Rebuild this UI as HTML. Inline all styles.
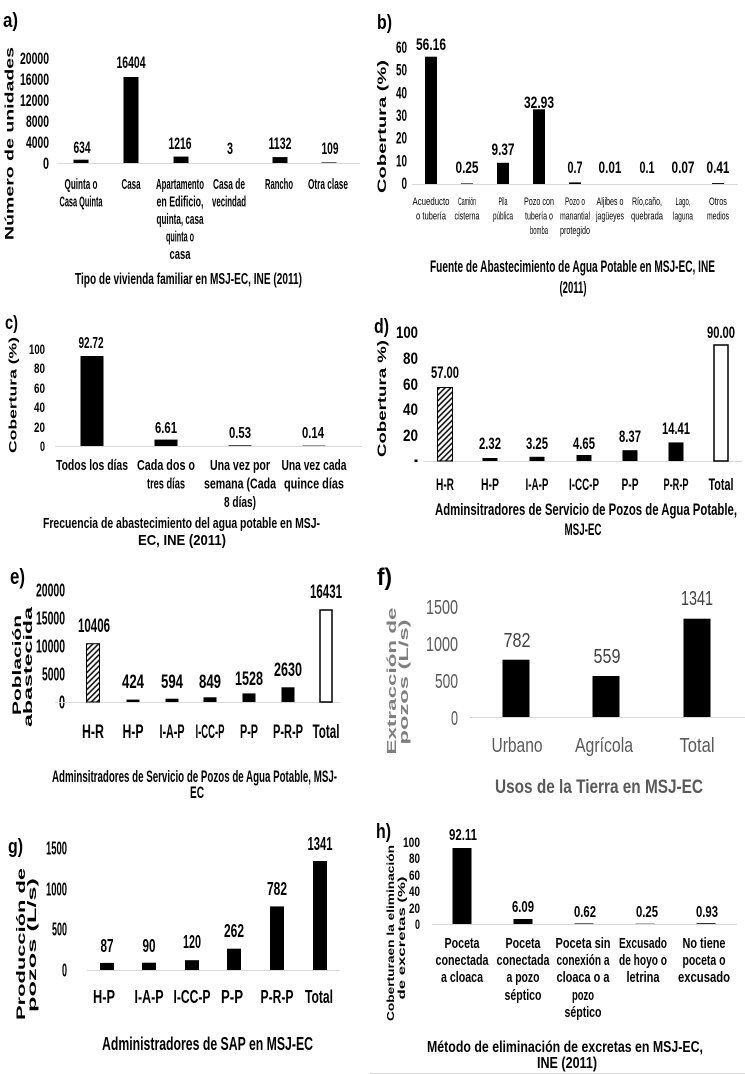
<!DOCTYPE html>
<html><head><meta charset="utf-8">
<style>
html,body{margin:0;padding:0;background:#fff;}
svg{display:block;}
text{font-family:"Liberation Sans",Arial,sans-serif;font-weight:bold;fill:#000;}
.n{font-weight:normal;}
.m{text-anchor:middle;}
.e{text-anchor:end;}
.ax{stroke:#d9d9d9;stroke-width:1;}
</style></head>
<body>
<svg width="745" height="1074" viewBox="0 0 745 1074" xmlns="http://www.w3.org/2000/svg">
<defs>
<pattern id="hp" patternUnits="userSpaceOnUse" width="4" height="4" patternTransform="rotate(45)">
<rect width="4" height="4" fill="#fff"/><line x1="1" y1="0" x2="1" y2="4" stroke="#000" stroke-width="1.5"/>
</pattern>
</defs>
<rect width="745" height="1074" fill="#fff"/>

<!-- ===== Panel a ===== -->
<text x="3" y="27" font-size="20" textLength="15" lengthAdjust="spacingAndGlyphs">a)</text>
<text class="m" transform="translate(13.5,143.5) scale(0.62,1) rotate(-90)" font-size="19" textLength="193" lengthAdjust="spacingAndGlyphs">Número de unidades</text>
<g font-size="17">
<text class="e" x="49" y="169" textLength="6" lengthAdjust="spacingAndGlyphs">0</text>
<text class="e" x="49" y="148" textLength="23" lengthAdjust="spacingAndGlyphs">4000</text>
<text class="e" x="49" y="127" textLength="23" lengthAdjust="spacingAndGlyphs">8000</text>
<text class="e" x="49" y="106" textLength="29" lengthAdjust="spacingAndGlyphs">12000</text>
<text class="e" x="49" y="85" textLength="29" lengthAdjust="spacingAndGlyphs">16000</text>
<text class="e" x="49" y="64" textLength="29" lengthAdjust="spacingAndGlyphs">20000</text>
</g>
<line class="ax" x1="57" y1="163.5" x2="360" y2="163.5"/>
<rect x="73.5" y="159.7" width="15" height="3.3"/>
<rect x="123.5" y="77" width="15" height="86"/>
<rect x="173.5" y="156.6" width="15" height="6.4"/>
<rect x="272.5" y="157.1" width="15" height="5.9"/>
<rect x="321.5" y="162.4" width="15" height="0.6"/>
<g font-size="17">
<text class="m" x="82" y="153" textLength="17" lengthAdjust="spacingAndGlyphs">634</text>
<text class="m" x="131" y="68" textLength="29" lengthAdjust="spacingAndGlyphs">16404</text>
<text class="m" x="180" y="149" textLength="23" lengthAdjust="spacingAndGlyphs">1216</text>
<text class="m" x="230" y="154" textLength="6" lengthAdjust="spacingAndGlyphs">3</text>
<text class="m" x="280" y="149" textLength="23" lengthAdjust="spacingAndGlyphs">1132</text>
<text class="m" x="330" y="154" textLength="17" lengthAdjust="spacingAndGlyphs">109</text>
</g>
<g font-size="14.5">
<text class="m" x="81" y="189" textLength="33" lengthAdjust="spacingAndGlyphs">Quinta o</text>
<text class="m" x="81" y="206.5" textLength="43" lengthAdjust="spacingAndGlyphs">Casa Quinta</text>
<text class="m" x="131" y="189" textLength="19" lengthAdjust="spacingAndGlyphs">Casa</text>
<text class="m" x="180" y="189" textLength="48" lengthAdjust="spacingAndGlyphs">Apartamento</text>
<text class="m" x="180" y="206.5" textLength="47" lengthAdjust="spacingAndGlyphs">en Edificio,</text>
<text class="m" x="180" y="224" textLength="47" lengthAdjust="spacingAndGlyphs">quinta, casa</text>
<text class="m" x="180" y="241.5" textLength="28" lengthAdjust="spacingAndGlyphs">quinta o</text>
<text class="m" x="180" y="259" textLength="21" lengthAdjust="spacingAndGlyphs">casa</text>
<text class="m" x="229" y="189" textLength="32" lengthAdjust="spacingAndGlyphs">Casa de</text>
<text class="m" x="229" y="206.5" textLength="34" lengthAdjust="spacingAndGlyphs">vecindad</text>
<text class="m" x="279" y="189" textLength="28" lengthAdjust="spacingAndGlyphs">Rancho</text>
<text class="m" x="328" y="189" textLength="40" lengthAdjust="spacingAndGlyphs">Otra clase</text>
</g>
<text class="m" x="188.5" y="284" font-size="16" textLength="227" lengthAdjust="spacingAndGlyphs">Tipo de vivienda familiar en MSJ-EC, INE (2011)</text>

<!-- ===== Panel b ===== -->
<text x="377" y="29" font-size="20" textLength="15" lengthAdjust="spacingAndGlyphs">b)</text>
<text class="m" transform="translate(386,126.5) scale(0.62,1) rotate(-90)" font-size="20" textLength="133" lengthAdjust="spacingAndGlyphs">Cobertura (%)</text>
<g font-size="16.5">
<text class="e" x="407" y="189" textLength="5.5" lengthAdjust="spacingAndGlyphs">0</text>
<text class="e" x="407" y="166.3" textLength="11" lengthAdjust="spacingAndGlyphs">10</text>
<text class="e" x="407" y="143.7" textLength="11" lengthAdjust="spacingAndGlyphs">20</text>
<text class="e" x="407" y="121" textLength="11" lengthAdjust="spacingAndGlyphs">30</text>
<text class="e" x="407" y="98.3" textLength="11" lengthAdjust="spacingAndGlyphs">40</text>
<text class="e" x="407" y="75.7" textLength="11" lengthAdjust="spacingAndGlyphs">50</text>
<text class="e" x="407" y="53" textLength="11" lengthAdjust="spacingAndGlyphs">60</text>
</g>
<line class="ax" x1="412" y1="184.5" x2="738" y2="184.5"/>
<rect x="425" y="56.7" width="12" height="127.3"/>
<rect x="461" y="183.4" width="12" height="0.6"/>
<rect x="497" y="162.8" width="12" height="21.2"/>
<rect x="533" y="109.3" width="12" height="74.7"/>
<rect x="569" y="182.4" width="12" height="1.6"/>
<rect x="712" y="183.1" width="12" height="0.9"/>
<g font-size="16.5">
<text class="m" x="431" y="50" textLength="30" lengthAdjust="spacingAndGlyphs">56.16</text>
<text class="m" x="467" y="173" textLength="23" lengthAdjust="spacingAndGlyphs">0.25</text>
<text class="m" x="503" y="155" textLength="23" lengthAdjust="spacingAndGlyphs">9.37</text>
<text class="m" x="539" y="108" textLength="30" lengthAdjust="spacingAndGlyphs">32.93</text>
<text class="m" x="575" y="173" textLength="15" lengthAdjust="spacingAndGlyphs">0.7</text>
<text class="m" x="610" y="173" textLength="23" lengthAdjust="spacingAndGlyphs">0.01</text>
<text class="m" x="647" y="173" textLength="15" lengthAdjust="spacingAndGlyphs">0.1</text>
<text class="m" x="683" y="173" textLength="23" lengthAdjust="spacingAndGlyphs">0.07</text>
<text class="m" x="718" y="173" textLength="23" lengthAdjust="spacingAndGlyphs">0.41</text>
</g>
<g font-size="11" class="n">
<text class="m n" x="431" y="205" textLength="37" lengthAdjust="spacingAndGlyphs">Acueducto</text>
<text class="m n" x="431" y="219.5" textLength="30" lengthAdjust="spacingAndGlyphs">o tubería</text>
<text class="m n" x="467" y="205" textLength="18" lengthAdjust="spacingAndGlyphs">Camión</text>
<text class="m n" x="467" y="219.5" textLength="25" lengthAdjust="spacingAndGlyphs">cisterna</text>
<text class="m n" x="503" y="205" textLength="9" lengthAdjust="spacingAndGlyphs">Pila</text>
<text class="m n" x="503" y="219.5" textLength="20" lengthAdjust="spacingAndGlyphs">pública</text>
<text class="m n" x="539" y="205" textLength="30" lengthAdjust="spacingAndGlyphs">Pozo con</text>
<text class="m n" x="539" y="219.5" textLength="28" lengthAdjust="spacingAndGlyphs">tubería o</text>
<text class="m n" x="539" y="234" textLength="18" lengthAdjust="spacingAndGlyphs">bomba</text>
<text class="m n" x="575" y="205" textLength="20" lengthAdjust="spacingAndGlyphs">Pozo o</text>
<text class="m n" x="575" y="219.5" textLength="30" lengthAdjust="spacingAndGlyphs">manantial</text>
<text class="m n" x="575" y="234" textLength="30" lengthAdjust="spacingAndGlyphs">protegido</text>
<text class="m n" x="610" y="205" textLength="27" lengthAdjust="spacingAndGlyphs">Aljibes o</text>
<text class="m n" x="610" y="219.5" textLength="28" lengthAdjust="spacingAndGlyphs">jagüeyes</text>
<text class="m n" x="647" y="205" textLength="30" lengthAdjust="spacingAndGlyphs">Río,caño,</text>
<text class="m n" x="647" y="219.5" textLength="32" lengthAdjust="spacingAndGlyphs">quebrada</text>
<text class="m n" x="683" y="205" textLength="15" lengthAdjust="spacingAndGlyphs">Lago,</text>
<text class="m n" x="683" y="219.5" textLength="20" lengthAdjust="spacingAndGlyphs">laguna</text>
<text class="m n" x="718" y="205" textLength="18" lengthAdjust="spacingAndGlyphs">Otros</text>
<text class="m n" x="718" y="219.5" textLength="22" lengthAdjust="spacingAndGlyphs">medios</text>
</g>
<text class="m" x="572.5" y="272" font-size="17" textLength="285" lengthAdjust="spacingAndGlyphs">Fuente de Abastecimiento de Agua Potable en MSJ-EC, INE</text>
<text class="m" x="573" y="293" font-size="17" textLength="27" lengthAdjust="spacingAndGlyphs">(2011)</text>

<!-- ===== Panel c ===== -->
<text x="5" y="329" font-size="19" textLength="13" lengthAdjust="spacingAndGlyphs">c)</text>
<text class="m" transform="translate(16.5,395) scale(0.62,1) rotate(-90)" font-size="17.5" textLength="116" lengthAdjust="spacingAndGlyphs">Cobertura (%)</text>
<g font-size="14">
<text class="e" x="45" y="451" textLength="5" lengthAdjust="spacingAndGlyphs">0</text>
<text class="e" x="45" y="432" textLength="11" lengthAdjust="spacingAndGlyphs">20</text>
<text class="e" x="45" y="412" textLength="11" lengthAdjust="spacingAndGlyphs">40</text>
<text class="e" x="45" y="393" textLength="11" lengthAdjust="spacingAndGlyphs">60</text>
<text class="e" x="45" y="373" textLength="11" lengthAdjust="spacingAndGlyphs">80</text>
<text class="e" x="45" y="354" textLength="16" lengthAdjust="spacingAndGlyphs">100</text>
</g>
<line class="ax" x1="55" y1="446.5" x2="362" y2="446.5"/>
<rect x="80.5" y="356" width="23" height="90"/>
<rect x="154.5" y="439.6" width="23" height="6.4"/>
<rect x="228.5" y="445.3" width="23" height="0.7"/>
<rect x="302.5" y="445.6" width="23" height="0.4"/>
<g font-size="16">
<text class="m" x="91" y="348" textLength="25" lengthAdjust="spacingAndGlyphs">92.72</text>
<text class="m" x="166" y="433" textLength="22" lengthAdjust="spacingAndGlyphs">6.61</text>
<text class="m" x="240" y="438" textLength="22" lengthAdjust="spacingAndGlyphs">0.53</text>
<text class="m" x="313" y="438" textLength="22" lengthAdjust="spacingAndGlyphs">0.14</text>
</g>
<g font-size="15">
<text class="m" x="92" y="470" textLength="72" lengthAdjust="spacingAndGlyphs">Todos los días</text>
<text class="m" x="166" y="470" textLength="58" lengthAdjust="spacingAndGlyphs">Cada dos o</text>
<text class="m" x="166" y="488.5" textLength="38" lengthAdjust="spacingAndGlyphs">tres días</text>
<text class="m" x="240" y="470" textLength="60" lengthAdjust="spacingAndGlyphs">Una vez por</text>
<text class="m" x="240" y="488.5" textLength="72" lengthAdjust="spacingAndGlyphs">semana (Cada</text>
<text class="m" x="240" y="507" textLength="32" lengthAdjust="spacingAndGlyphs">8 días)</text>
<text class="m" x="314" y="470" textLength="65" lengthAdjust="spacingAndGlyphs">Una vez cada</text>
<text class="m" x="314" y="488.5" textLength="60" lengthAdjust="spacingAndGlyphs">quince días</text>
</g>
<text class="m" x="181.5" y="528" font-size="15" textLength="277" lengthAdjust="spacingAndGlyphs">Frecuencia de abastecimiento del agua potable en MSJ-</text>
<text class="m" x="182" y="545" font-size="15" textLength="88" lengthAdjust="spacingAndGlyphs">EC,  INE (2011)</text>

<!-- ===== Panel d ===== -->
<text x="374" y="333" font-size="20" textLength="15" lengthAdjust="spacingAndGlyphs">d)</text>
<text class="m" transform="translate(386,398.5) scale(0.62,1) rotate(-90)" font-size="18.6" textLength="117" lengthAdjust="spacingAndGlyphs">Cobertura %)</text>
<g font-size="17">
<text class="e" x="418" y="338" textLength="22" lengthAdjust="spacingAndGlyphs">100</text>
<text class="e" x="418" y="364" textLength="15" lengthAdjust="spacingAndGlyphs">80</text>
<text class="e" x="418" y="390" textLength="15" lengthAdjust="spacingAndGlyphs">60</text>
<text class="e" x="418" y="415" textLength="15" lengthAdjust="spacingAndGlyphs">40</text>
<text class="e" x="418" y="441" textLength="15" lengthAdjust="spacingAndGlyphs">20</text>
</g>
<rect x="414.5" y="459.5" width="3" height="2.5"/>
<line class="ax" x1="423" y1="461.5" x2="742" y2="461.5"/>
<rect x="437.5" y="387.5" width="15" height="73.5" fill="url(#hp)" stroke="#000" stroke-width="1"/>
<rect x="482.5" y="458" width="15" height="3"/>
<rect x="529.5" y="456.8" width="15" height="4.2"/>
<rect x="576.5" y="455" width="15" height="6"/>
<rect x="622.5" y="450.2" width="15" height="10.8"/>
<rect x="668.5" y="442.4" width="15" height="18.6"/>
<rect x="714" y="345" width="14" height="116" fill="#fff" stroke="#000" stroke-width="1.5"/>
<g font-size="17">
<text class="m" x="445" y="378" textLength="28" lengthAdjust="spacingAndGlyphs">57.00</text>
<text class="m" x="490" y="449" textLength="22" lengthAdjust="spacingAndGlyphs">2.32</text>
<text class="m" x="537" y="449" textLength="22" lengthAdjust="spacingAndGlyphs">3.25</text>
<text class="m" x="584" y="449" textLength="22" lengthAdjust="spacingAndGlyphs">4.65</text>
<text class="m" x="630" y="442" textLength="22" lengthAdjust="spacingAndGlyphs">8.37</text>
<text class="m" x="676" y="434" textLength="28" lengthAdjust="spacingAndGlyphs">14.41</text>
<text class="m" x="721" y="338" textLength="28" lengthAdjust="spacingAndGlyphs">90.00</text>
<text class="m" x="445" y="490" textLength="18" lengthAdjust="spacingAndGlyphs">H-R</text>
<text class="m" x="490" y="490" textLength="18" lengthAdjust="spacingAndGlyphs">H-P</text>
<text class="m" x="537" y="490" textLength="23" lengthAdjust="spacingAndGlyphs">I-A-P</text>
<text class="m" x="584" y="490" textLength="30" lengthAdjust="spacingAndGlyphs">I-CC-P</text>
<text class="m" x="630" y="490" textLength="17" lengthAdjust="spacingAndGlyphs">P-P</text>
<text class="m" x="676" y="490" textLength="25" lengthAdjust="spacingAndGlyphs">P-R-P</text>
<text class="m" x="721" y="490" textLength="25" lengthAdjust="spacingAndGlyphs">Total</text>
<text class="m" x="586" y="515" textLength="302" lengthAdjust="spacingAndGlyphs">Adminsitradores de Servicio de Pozos de Agua Potable,</text>
<text class="m" x="583" y="535" textLength="37" lengthAdjust="spacingAndGlyphs">MSJ-EC</text>
</g>

<!-- ===== Panel e ===== -->
<text x="10" y="584" font-size="22" textLength="15" lengthAdjust="spacingAndGlyphs">e)</text>
<text class="m" transform="translate(21,665) scale(0.55,1) rotate(-90)" font-size="22" textLength="100" lengthAdjust="spacingAndGlyphs">Población</text>
<text class="m" transform="translate(32,667) scale(0.55,1) rotate(-90)" font-size="22" textLength="120" lengthAdjust="spacingAndGlyphs">abastecida</text>
<g font-size="18">
<text class="e" x="65" y="708.5" textLength="6" lengthAdjust="spacingAndGlyphs">0</text>
<text class="e" x="65" y="680.5" textLength="23" lengthAdjust="spacingAndGlyphs">5000</text>
<text class="e" x="65" y="652.5" textLength="29" lengthAdjust="spacingAndGlyphs">10000</text>
<text class="e" x="65" y="624.5" textLength="29" lengthAdjust="spacingAndGlyphs">15000</text>
<text class="e" x="65" y="596.5" textLength="29" lengthAdjust="spacingAndGlyphs">20000</text>
</g>
<line class="ax" x1="55" y1="702.5" x2="340" y2="702.5"/>
<rect x="86.5" y="643.7" width="13" height="58.3" fill="url(#hp)" stroke="#000" stroke-width="1"/>
<rect x="126.5" y="699.6" width="13" height="2.4"/>
<rect x="165.5" y="698.7" width="13" height="3.3"/>
<rect x="203.5" y="697.3" width="13" height="4.7"/>
<rect x="242.5" y="693.4" width="13" height="8.6"/>
<rect x="281.5" y="687.3" width="13" height="14.7"/>
<rect x="320" y="610" width="12" height="92" fill="#fff" stroke="#000" stroke-width="1.5"/>
<g font-size="19">
<text class="m" x="94" y="632" textLength="32" lengthAdjust="spacingAndGlyphs">10406</text>
<text class="m" x="133" y="688" textLength="22" lengthAdjust="spacingAndGlyphs">424</text>
<text class="m" x="172" y="688" textLength="22" lengthAdjust="spacingAndGlyphs">594</text>
<text class="m" x="210" y="688" textLength="22" lengthAdjust="spacingAndGlyphs">849</text>
<text class="m" x="249" y="685" textLength="28" lengthAdjust="spacingAndGlyphs">1528</text>
<text class="m" x="288" y="676" textLength="28" lengthAdjust="spacingAndGlyphs">2630</text>
<text class="m" x="326" y="598" textLength="32" lengthAdjust="spacingAndGlyphs">16431</text>
<text class="m" x="93" y="738" textLength="22" lengthAdjust="spacingAndGlyphs">H-R</text>
<text class="m" x="133" y="738" textLength="21" lengthAdjust="spacingAndGlyphs">H-P</text>
<text class="m" x="172" y="738" textLength="25" lengthAdjust="spacingAndGlyphs">I-A-P</text>
<text class="m" x="210" y="738" textLength="29" lengthAdjust="spacingAndGlyphs">I-CC-P</text>
<text class="m" x="249" y="738" textLength="18" lengthAdjust="spacingAndGlyphs">P-P</text>
<text class="m" x="288" y="738" textLength="30" lengthAdjust="spacingAndGlyphs">P-R-P</text>
<text class="m" x="326" y="738" textLength="27" lengthAdjust="spacingAndGlyphs">Total</text>
</g>
<text class="m" x="194.5" y="782" font-size="17" textLength="285" lengthAdjust="spacingAndGlyphs">Adminsitradores  de Servicio de Pozos de Agua Potable, MSJ-</text>
<text class="m" x="197" y="798" font-size="17" textLength="14" lengthAdjust="spacingAndGlyphs">EC</text>

<!-- ===== Panel f ===== -->
<text x="377" y="585" font-size="24" textLength="15" lengthAdjust="spacingAndGlyphs">f)</text>
<text class="m" transform="translate(396,681) scale(0.58,1) rotate(-90)" font-size="23" textLength="147" lengthAdjust="spacingAndGlyphs" style="fill:#7f7f7f">Extracción de</text>
<text class="m" transform="translate(408,682) scale(0.58,1) rotate(-90)" font-size="23" textLength="125" lengthAdjust="spacingAndGlyphs" style="fill:#7f7f7f">pozos (L/s)</text>
<g font-size="20">
<text class="e n" x="458" y="725" textLength="7" lengthAdjust="spacingAndGlyphs" style="fill:#595959">0</text>
<text class="e n" x="458" y="688" textLength="23" lengthAdjust="spacingAndGlyphs" style="fill:#595959">500</text>
<text class="e n" x="458" y="651" textLength="32" lengthAdjust="spacingAndGlyphs" style="fill:#595959">1000</text>
<text class="e n" x="458" y="614" textLength="32" lengthAdjust="spacingAndGlyphs" style="fill:#595959">1500</text>
</g>
<line class="ax" x1="470" y1="717.5" x2="748" y2="717.5"/>
<rect x="502.5" y="659.7" width="27" height="57.3"/>
<rect x="592.5" y="676" width="27" height="41"/>
<rect x="683.5" y="618.7" width="27" height="98.3"/>
<g font-size="20">
<text class="m n" x="517" y="647" textLength="27" lengthAdjust="spacingAndGlyphs" style="fill:#404040">782</text>
<text class="m n" x="607" y="663" textLength="27" lengthAdjust="spacingAndGlyphs" style="fill:#404040">559</text>
<text class="m n" x="697" y="605" textLength="32" lengthAdjust="spacingAndGlyphs" style="fill:#404040">1341</text>
<text class="m n" x="517" y="752" textLength="51" lengthAdjust="spacingAndGlyphs" style="fill:#595959">Urbano</text>
<text class="m n" x="604" y="752" textLength="58" lengthAdjust="spacingAndGlyphs" style="fill:#595959">Agrícola</text>
<text class="m n" x="697" y="752" textLength="35" lengthAdjust="spacingAndGlyphs" style="fill:#595959">Total</text>
</g>
<text class="m" x="599" y="793" font-size="19" textLength="208" lengthAdjust="spacingAndGlyphs" style="fill:#595959">Usos  de la Tierra en MSJ-EC</text>

<!-- ===== Panel g ===== -->
<text x="8" y="853" font-size="20" textLength="15" lengthAdjust="spacingAndGlyphs">g)</text>
<text class="m" transform="translate(25,944) scale(0.55,1) rotate(-90)" font-size="22" textLength="152" lengthAdjust="spacingAndGlyphs">Producción de</text>
<text class="m" transform="translate(36,945) scale(0.55,1) rotate(-90)" font-size="22" textLength="134" lengthAdjust="spacingAndGlyphs">pozos (L/s)</text>
<g font-size="18">
<text class="e" x="67" y="976.5" textLength="5" lengthAdjust="spacingAndGlyphs">0</text>
<text class="e" x="67" y="935.5" textLength="15" lengthAdjust="spacingAndGlyphs">500</text>
<text class="e" x="67" y="895.5" textLength="21" lengthAdjust="spacingAndGlyphs">1000</text>
<text class="e" x="67" y="854.5" textLength="21" lengthAdjust="spacingAndGlyphs">1500</text>
</g>
<line class="ax" x1="87" y1="970.5" x2="340" y2="970.5"/>
<rect x="100" y="962.9" width="14" height="7.1"/>
<rect x="142" y="962.7" width="14" height="7.3"/>
<rect x="185" y="960.2" width="14" height="9.8"/>
<rect x="227" y="948.7" width="14" height="21.3"/>
<rect x="270" y="906.4" width="14" height="63.6"/>
<rect x="313" y="861" width="14" height="109"/>
<g font-size="18">
<text class="m" x="107" y="952" textLength="13" lengthAdjust="spacingAndGlyphs">87</text>
<text class="m" x="149" y="952" textLength="13" lengthAdjust="spacingAndGlyphs">90</text>
<text class="m" x="192" y="948" textLength="18" lengthAdjust="spacingAndGlyphs">120</text>
<text class="m" x="234" y="937" textLength="20" lengthAdjust="spacingAndGlyphs">262</text>
<text class="m" x="277" y="895" textLength="20" lengthAdjust="spacingAndGlyphs">782</text>
<text class="m" x="320" y="850" textLength="25" lengthAdjust="spacingAndGlyphs">1341</text>
<text class="m" x="104" y="1003" textLength="22" lengthAdjust="spacingAndGlyphs">H-P</text>
<text class="m" x="149" y="1003" textLength="29" lengthAdjust="spacingAndGlyphs">I-A-P</text>
<text class="m" x="192" y="1003" textLength="37" lengthAdjust="spacingAndGlyphs">I-CC-P</text>
<text class="m" x="232" y="1003" textLength="22" lengthAdjust="spacingAndGlyphs">P-P</text>
<text class="m" x="277" y="1003" textLength="33" lengthAdjust="spacingAndGlyphs">P-R-P</text>
<text class="m" x="319" y="1003" textLength="28" lengthAdjust="spacingAndGlyphs">Total</text>
<text class="m" x="207.5" y="1050" textLength="211" lengthAdjust="spacingAndGlyphs">Administradores de SAP en MSJ-EC</text>
</g>

<!-- ===== Panel h ===== -->
<text x="376" y="838" font-size="20" textLength="15" lengthAdjust="spacingAndGlyphs">h)</text>
<text class="m" transform="translate(394,933) scale(0.55,1) rotate(-90)" font-size="19" textLength="176" lengthAdjust="spacingAndGlyphs">Coberturaen la eliminación</text>
<text class="m" transform="translate(405,938) scale(0.55,1) rotate(-90)" font-size="19" textLength="123" lengthAdjust="spacingAndGlyphs">de excretas (%)</text>
<g font-size="14">
<text class="e" x="420" y="929" textLength="5" lengthAdjust="spacingAndGlyphs">0</text>
<text class="e" x="420" y="913" textLength="11" lengthAdjust="spacingAndGlyphs">20</text>
<text class="e" x="420" y="896" textLength="11" lengthAdjust="spacingAndGlyphs">40</text>
<text class="e" x="420" y="880" textLength="11" lengthAdjust="spacingAndGlyphs">60</text>
<text class="e" x="420" y="863" textLength="11" lengthAdjust="spacingAndGlyphs">80</text>
<text class="e" x="420" y="847" textLength="17" lengthAdjust="spacingAndGlyphs">100</text>
</g>
<line class="ax" x1="432" y1="924.5" x2="737" y2="924.5"/>
<rect x="452.5" y="848" width="19" height="76"/>
<rect x="513.5" y="919" width="19" height="5"/>
<rect x="574.5" y="923.4" width="19" height="0.6"/>
<rect x="635.5" y="923.7" width="19" height="0.3"/>
<rect x="696.5" y="923.2" width="19" height="0.8"/>
<g font-size="16">
<text class="m" x="463" y="840" textLength="28" lengthAdjust="spacingAndGlyphs">92.11</text>
<text class="m" x="523" y="912" textLength="22" lengthAdjust="spacingAndGlyphs">6.09</text>
<text class="m" x="585" y="917" textLength="22" lengthAdjust="spacingAndGlyphs">0.62</text>
<text class="m" x="647" y="917" textLength="22" lengthAdjust="spacingAndGlyphs">0.25</text>
<text class="m" x="707" y="917" textLength="22" lengthAdjust="spacingAndGlyphs">0.93</text>
</g>
<g font-size="15">
<text class="m" x="462" y="948" textLength="35" lengthAdjust="spacingAndGlyphs">Poceta</text>
<text class="m" x="462" y="965" textLength="53" lengthAdjust="spacingAndGlyphs">conectada</text>
<text class="m" x="462" y="982" textLength="42" lengthAdjust="spacingAndGlyphs">a cloaca</text>
<text class="m" x="523" y="948" textLength="35" lengthAdjust="spacingAndGlyphs">Poceta</text>
<text class="m" x="523" y="965" textLength="53" lengthAdjust="spacingAndGlyphs">conectada</text>
<text class="m" x="523" y="982" textLength="33" lengthAdjust="spacingAndGlyphs">a pozo</text>
<text class="m" x="523" y="1000" textLength="37" lengthAdjust="spacingAndGlyphs">séptico</text>
<text class="m" x="583" y="948" textLength="55" lengthAdjust="spacingAndGlyphs">Poceta sin</text>
<text class="m" x="583" y="965" textLength="53" lengthAdjust="spacingAndGlyphs">conexión a</text>
<text class="m" x="583" y="982" textLength="53" lengthAdjust="spacingAndGlyphs">cloaca o a</text>
<text class="m" x="583" y="1000" textLength="22" lengthAdjust="spacingAndGlyphs">pozo</text>
<text class="m" x="583" y="1017" textLength="37" lengthAdjust="spacingAndGlyphs">séptico</text>
<text class="m" x="643" y="948" textLength="48" lengthAdjust="spacingAndGlyphs">Excusado</text>
<text class="m" x="643" y="965" textLength="48" lengthAdjust="spacingAndGlyphs">de hoyo o</text>
<text class="m" x="643" y="982" textLength="33" lengthAdjust="spacingAndGlyphs">letrina</text>
<text class="m" x="704" y="948" textLength="43" lengthAdjust="spacingAndGlyphs">No tiene</text>
<text class="m" x="704" y="965" textLength="43" lengthAdjust="spacingAndGlyphs">poceta o</text>
<text class="m" x="704" y="982" textLength="52" lengthAdjust="spacingAndGlyphs">excusado</text>
</g>
<text class="m" x="565" y="1052" font-size="16" textLength="276" lengthAdjust="spacingAndGlyphs">Método de eliminación  de excretas en MSJ-EC,</text>
<text class="m" x="567" y="1068" font-size="16" textLength="60" lengthAdjust="spacingAndGlyphs">INE (2011)</text>
<line x1="370" y1="1073.5" x2="745" y2="1073.5" stroke="#d6d6d6" stroke-width="1"/>
</svg>
</body></html>
